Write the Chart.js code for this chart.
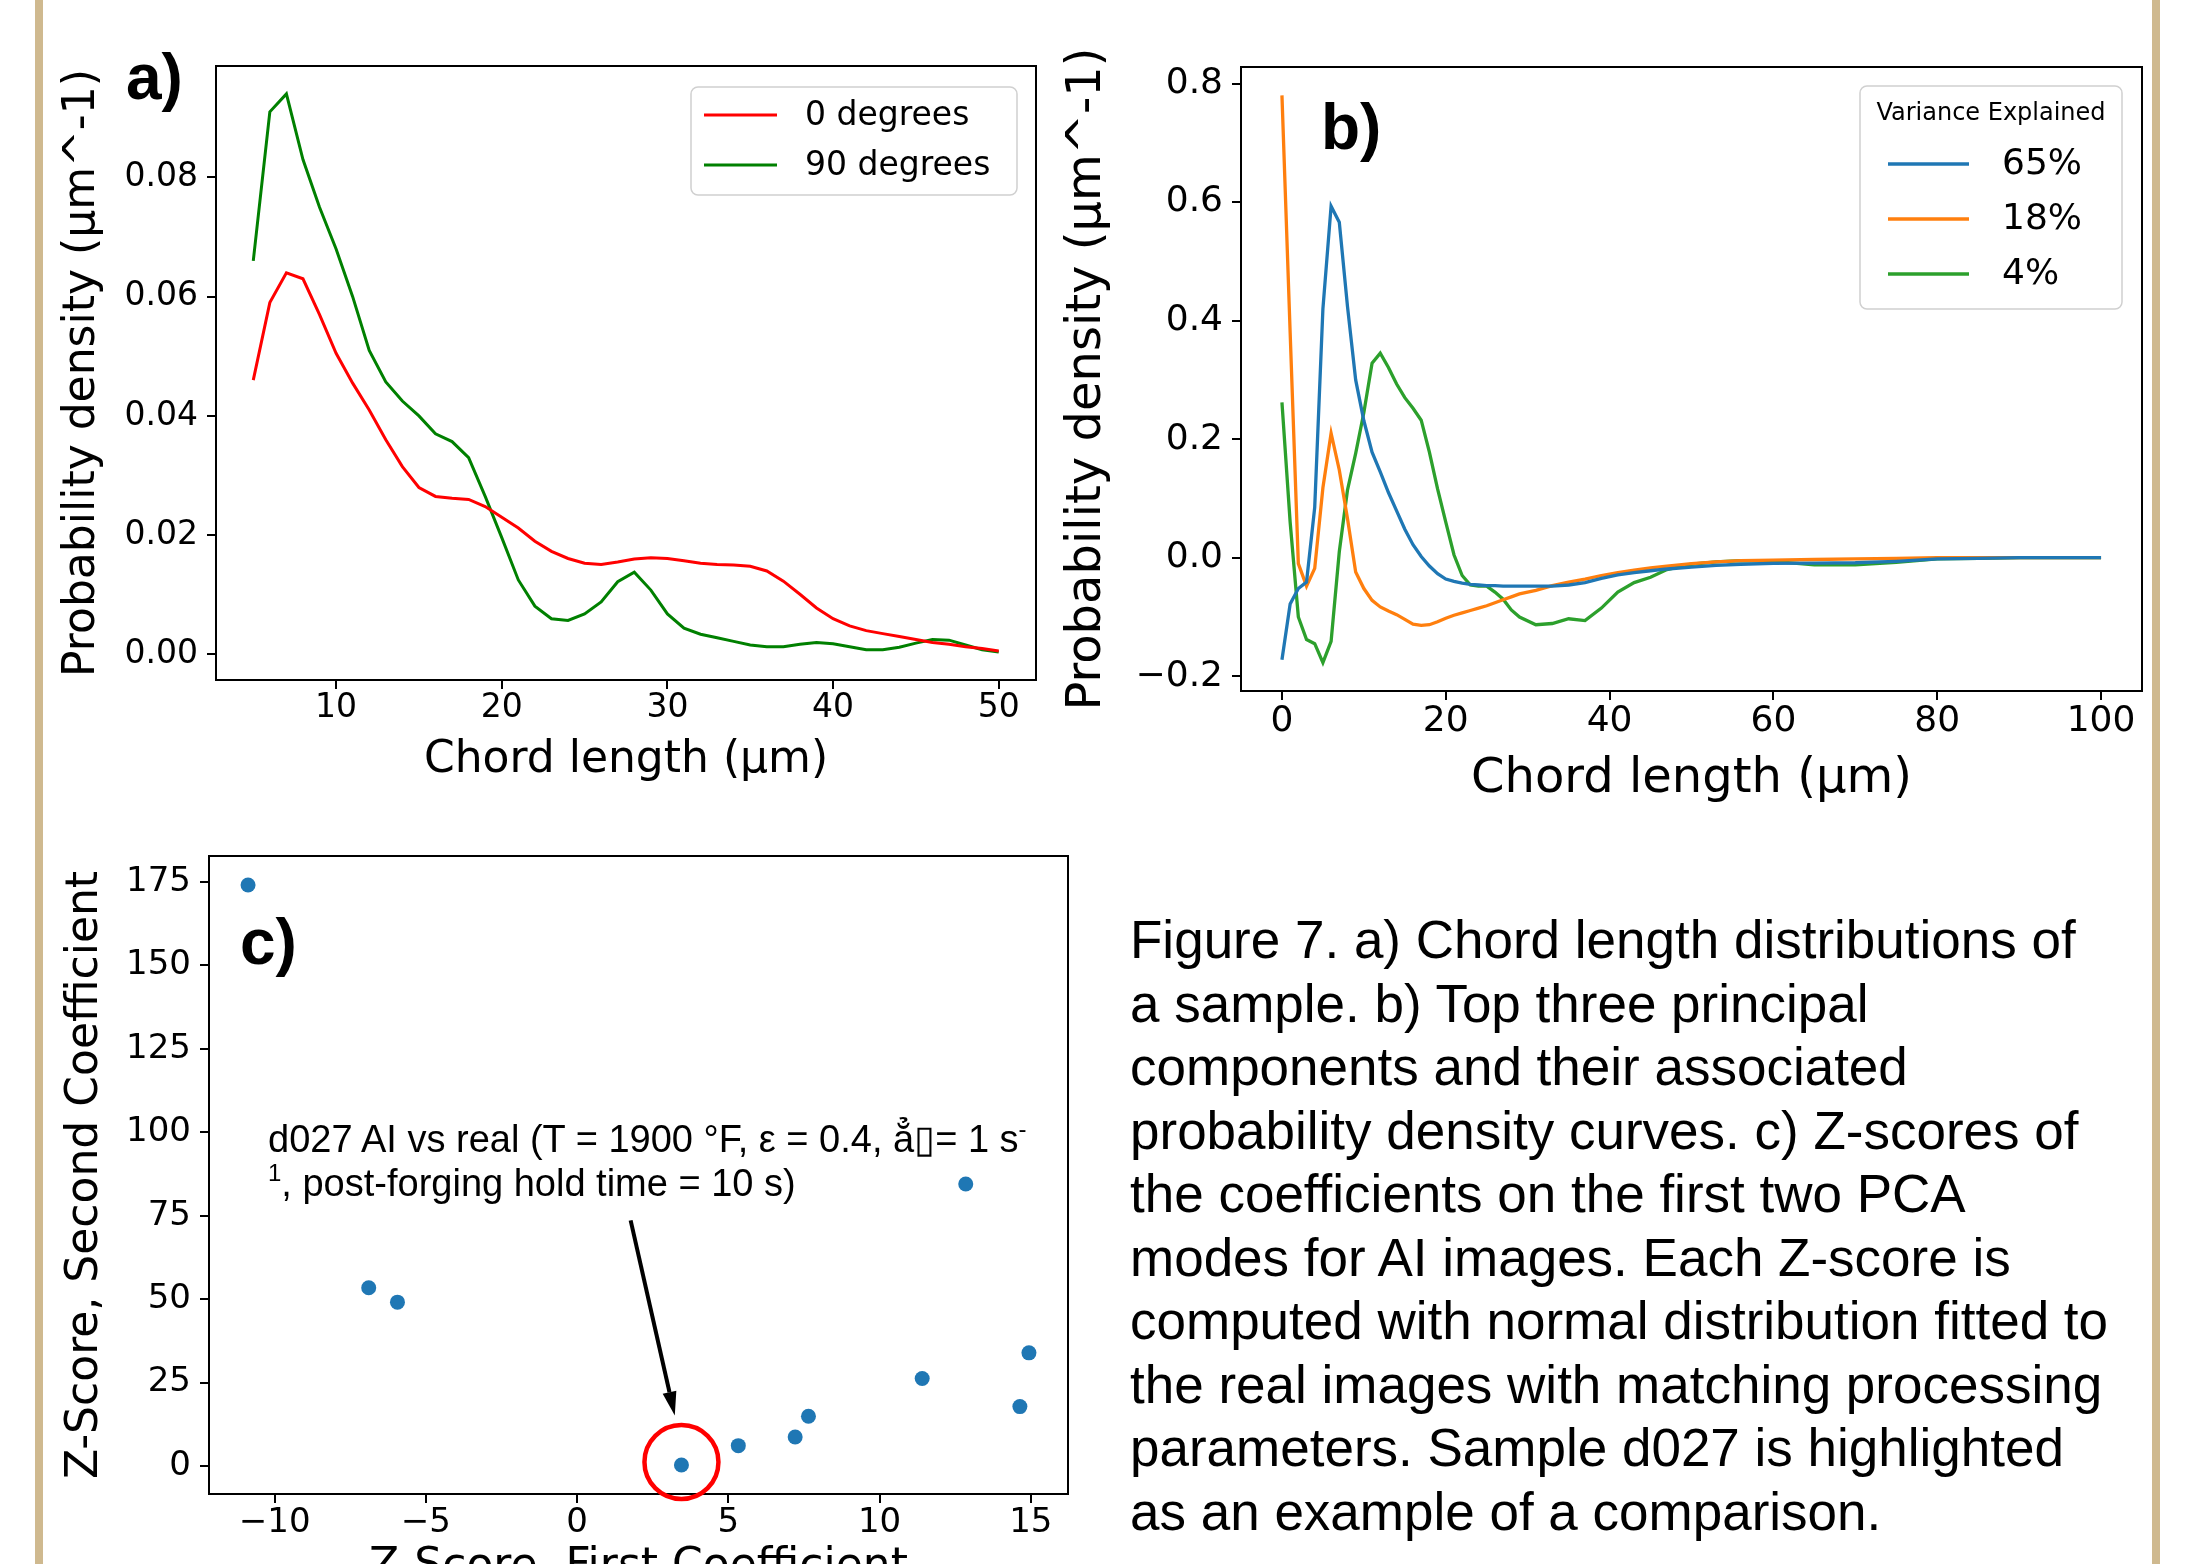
<!DOCTYPE html>
<html lang="en">
<head>
<meta charset="UTF-8">
<title>Figure 7</title>
<script src="https://cdn.jsdelivr.net/npm/chart.js"></script>
<style>
  body { margin: 0; width: 2192px; height: 1564px; overflow: hidden; background: #fff; position: relative; }
  canvas { position: absolute; }
  .bar { position: absolute; top: 0; width: 8px; height: 1564px; background: #cfb98f; }
  .tag { position: absolute; font: bold 64px "Liberation Sans", Arial, sans-serif; line-height: 64px; color: #000; }
  .caption { position: absolute; left: 1130px; top: 908px; font: 53px "Liberation Sans", Arial, sans-serif; line-height: 63.5px; white-space: nowrap; color: #000; }
  .note { position: absolute; left: 268px; top: 1117px; font: 38px "Liberation Sans", Arial, sans-serif; line-height: 44px; white-space: nowrap; color: #000; }
  .note sup { font-size: 24px; line-height: 0; vertical-align: 15px; }
</style>
</head>
<body>
<div class="bar" style="left:35px"></div>
<div class="bar" style="left:2152px"></div>

<canvas id="chartA" width="1100" height="820" style="left:0;top:0"></canvas>
<canvas id="chartB" width="1152" height="830" style="left:1040px;top:0"></canvas>
<canvas id="chartC" width="1100" height="830" style="left:0;top:800px"></canvas>

<div class="tag" style="left:126px;top:45px">a)</div>
<div class="tag" style="left:1321px;top:95px">b)</div>
<div class="tag" style="left:240px;top:910px">c)</div>

<div class="note">d027 AI vs real (T = 1900 °F, ε = 0.4, ẳ▯= 1 s<sup>-</sup><br><sup>1</sup>, post-forging hold time = 10 s)</div>

<div class="caption">Figure 7. a) Chord length distributions of<br>a sample. b) Top three principal<br>components and their associated<br>probability density curves. c) Z-scores of<br>the coefficients on the first two PCA<br>modes for AI images. Each Z-score is<br>computed with normal distribution fitted to<br>the real images with matching processing<br>parameters. Sample d027 is highlighted<br>as an example of a comparison.</div>

<script>
// ---- panel a: chord length distributions ----
const aChord = [5, 6, 7, 8, 9, 10, 11, 12, 13, 14, 15, 16, 17, 18, 19, 20, 21, 22, 23, 24, 25, 26, 27,
  28, 29, 30, 31, 32, 33, 34, 35, 36, 37, 38, 39, 40, 41, 42, 43, 44, 45, 46, 47, 48, 49, 50];
const aDeg0 = [0.046, 0.059, 0.064, 0.063, 0.057, 0.0505, 0.0455, 0.041, 0.036, 0.0315, 0.028, 0.0265,
  0.0262, 0.026, 0.0248, 0.023, 0.0212, 0.019, 0.0173, 0.0161, 0.0153, 0.0151, 0.0155, 0.016, 0.0162,
  0.0161, 0.0157, 0.0153, 0.0151, 0.015, 0.0148, 0.014, 0.0123, 0.0101, 0.0078, 0.006, 0.0048, 0.004,
  0.0035, 0.003, 0.0025, 0.002, 0.0017, 0.0013, 0.001, 0.0006];
const aDeg90 = [0.066, 0.091, 0.094, 0.083, 0.075, 0.068, 0.060, 0.051, 0.0457, 0.0425, 0.040, 0.037,
  0.0357, 0.033, 0.0265, 0.0196, 0.0125, 0.0081, 0.006, 0.0057, 0.0068, 0.0088, 0.0122, 0.0138, 0.0108,
  0.0068, 0.0044, 0.0034, 0.0028, 0.0022, 0.0016, 0.0013, 0.0013, 0.0017, 0.002, 0.0018, 0.0013, 0.0008,
  0.0008, 0.0012, 0.0019, 0.0025, 0.0024, 0.0016, 0.0008, 0.0004];
const aTicksX = [10, 20, 30, 40, 50];
const aTicksY = [0, 0.02, 0.04, 0.06, 0.08];

// ---- panel b: principal components ----
const bChord = [0, 1, 2, 3, 4, 5, 6, 7, 8, 9, 10, 11, 12, 13, 14, 15, 16, 17, 18, 19, 20, 21, 22, 23, 24,
  25, 26, 27, 28, 29, 31, 33, 35, 37, 39, 41, 43, 45, 47, 50, 53, 56, 60, 65, 70, 75, 80, 85, 90, 95, 100];
const bPc65 = [-0.172, -0.078, -0.052, -0.041, 0.085, 0.42, 0.593, 0.566, 0.424, 0.30, 0.231, 0.178,
  0.145, 0.11, 0.079, 0.048, 0.022, 0.002, -0.014, -0.027, -0.036, -0.04, -0.043, -0.045, -0.046, -0.047,
  -0.047, -0.048, -0.048, -0.048, -0.048, -0.048, -0.046, -0.042, -0.035, -0.029, -0.025, -0.022, -0.019,
  -0.016, -0.013, -0.011, -0.0096, -0.009, -0.0085, -0.006, -0.002, -0.001, 0, 0, 0];
const bPc18 = [0.78, 0.38, -0.01, -0.048, -0.018, 0.118, 0.21, 0.148, 0.066, -0.024, -0.052, -0.072,
  -0.083, -0.09, -0.096, -0.104, -0.112, -0.114, -0.113, -0.108, -0.102, -0.097, -0.093, -0.089, -0.085,
  -0.081, -0.076, -0.071, -0.066, -0.061, -0.055, -0.047, -0.041, -0.036, -0.03, -0.025, -0.021, -0.017,
  -0.014, -0.01, -0.007, -0.005, -0.004, -0.003, -0.002, -0.001, 0, 0, 0, 0, 0];
const bPc4 = [0.262, 0.06, -0.1, -0.138, -0.145, -0.177, -0.141, 0.01, 0.114, 0.176, 0.245, 0.328, 0.345,
  0.321, 0.293, 0.27, 0.252, 0.232, 0.178, 0.116, 0.06, 0.005, -0.03, -0.046, -0.048, -0.048, -0.058, -0.07,
  -0.088, -0.1, -0.113, -0.111, -0.103, -0.106, -0.085, -0.058, -0.042, -0.033, -0.02, -0.011, -0.007,
  -0.005, -0.006, -0.012, -0.012, -0.008, -0.002, -0.001, 0, 0, 0];
const bTicksX = [0, 20, 40, 60, 80, 100];
const bTicksY = [-0.2, 0, 0.2, 0.4, 0.6, 0.8];

// ---- panel c: z-scores ----
const cFirst = [-10.88, -6.89, -5.94, 3.45, 5.33, 7.21, 7.65, 11.41, 12.85, 14.64, 14.94];
const cSecond = [174.1, 53.4, 49.1, 0.3, 6.1, 8.7, 14.9, 26.2, 84.5, 17.8, 33.9];
const cHighlight = 3; // d027
const cTicksX = [-10, -5, 0, 5, 10, 15];
const cTicksY = [0, 25, 50, 75, 100, 125, 150, 175];

const FONT = 'DejaVu Sans';

function pad5(...series) {
  const all = series.flat();
  const lo = Math.min(...all), hi = Math.max(...all), m = (hi - lo) * 0.05;
  return [lo - m, hi + m];
}
function fmt(d) {
  return v => (v < 0 ? '\u2212' : '') + Math.abs(v).toFixed(d);
}
function pts(xs, ys) { return xs.map((x, i) => ({ x: x, y: ys[i] })); }

// work out paddings so the plot box lands where the reference has it
function fitLayout(rect, area, yTitleX, yTitleSize, xTitleY, xTitleSize) {
  const yLh = yTitleSize * 1.2, xLh = xTitleSize * 1.2;
  const padLeft = yTitleX - yLh / 2 - rect.x;
  const xBottom = xTitleY + xLh / 2;
  return {
    padding: { left: padLeft, top: area.t - rect.y, right: rect.x + rect.w - area.r, bottom: rect.y + rect.h - xBottom },
    yWidth: area.l - rect.x - padLeft,
    xHeight: xBottom - area.b
  };
}

function axis(range, ticks, format, title, titleSize, tickSize, tickPad, fix) {
  return {
    type: 'linear', min: range[0], max: range[1],
    afterBuildTicks: s => { s.ticks = ticks.map(v => ({ value: v })); },
    afterFit: fix,
    grid: { drawOnChartArea: false, color: '#000', lineWidth: 2, tickLength: 9, tickWidth: 2 },
    border: { display: true, color: '#000', width: 2 },
    ticks: { color: '#000', font: { family: FONT, size: tickSize }, padding: tickPad, autoSkip: false, maxRotation: 0, callback: format },
    title: { display: true, text: title, color: '#000', font: { family: FONT, size: titleSize }, padding: 0 }
  };
}

const framePlugin = {
  id: 'frame',
  afterDraw(chart) {
    const { ctx, chartArea: a } = chart;
    ctx.save();
    ctx.strokeStyle = '#000';
    ctx.lineWidth = 2;
    ctx.strokeRect(a.left, a.top, a.right - a.left, a.bottom - a.top);
    ctx.restore();
  }
};

function roundBox(ctx, x, y, w, h, r) {
  ctx.beginPath();
  ctx.moveTo(x + r, y);
  ctx.arcTo(x + w, y, x + w, y + h, r);
  ctx.arcTo(x + w, y + h, x, y + h, r);
  ctx.arcTo(x, y + h, x, y, r);
  ctx.arcTo(x, y, x + w, y, r);
  ctx.closePath();
}

// matplotlib-like legend, spec in page coordinates
function legendPlugin(rect, spec) {
  return {
    id: 'mplLegend',
    afterDraw(chart) {
      const ctx = chart.ctx;
      const ox = rect.x, oy = rect.y;
      ctx.save();
      roundBox(ctx, spec.box[0] - ox, spec.box[1] - oy, spec.box[2] - spec.box[0], spec.box[3] - spec.box[1], 7);
      ctx.fillStyle = 'rgba(255,255,255,0.8)';
      ctx.fill();
      ctx.strokeStyle = '#d0d0d0';
      ctx.lineWidth = 1.5;
      ctx.stroke();
      ctx.fillStyle = '#000';
      ctx.textBaseline = 'middle';
      if (spec.title) {
        ctx.textAlign = 'center';
        ctx.font = spec.titleSize + 'px "' + FONT + '"';
        ctx.fillText(spec.title, spec.titleX - ox, spec.titleY - oy);
      }
      ctx.textAlign = 'left';
      ctx.font = spec.size + 'px "' + FONT + '"';
      chart.data.datasets.forEach((ds, i) => {
        const y = spec.rows[i] - oy;
        ctx.strokeStyle = ds.borderColor;
        ctx.lineWidth = ds.borderWidth;
        ctx.beginPath();
        ctx.moveTo(spec.line[0] - ox, y);
        ctx.lineTo(spec.line[1] - ox, y);
        ctx.stroke();
        ctx.fillStyle = '#000';
        ctx.fillText(ds.label, spec.textX - ox, y + 1);
      });
      ctx.restore();
    }
  };
}

// ---- chart a ----
const rectA = { x: 0, y: 0, w: 1100, h: 820 };
const layA = fitLayout(rectA, { l: 216, t: 66, r: 1036, b: 680 }, 83, 44, 761, 44);
new Chart(document.getElementById('chartA'), {
  type: 'line',
  data: {
    datasets: [
      { label: '0 degrees', data: pts(aChord, aDeg0), borderColor: '#ff0000', borderWidth: 3, pointRadius: 0, tension: 0 },
      { label: '90 degrees', data: pts(aChord, aDeg90), borderColor: '#008000', borderWidth: 3, pointRadius: 0, tension: 0 }
    ]
  },
  options: {
    responsive: false, animation: false, events: [],
    layout: { padding: layA.padding },
    plugins: { legend: { display: false }, tooltip: { enabled: false } },
    scales: {
      x: axis(pad5(aChord), aTicksX, fmt(0), 'Chord length (\u03bcm)', 44, 33, 0, s => { s.height = layA.xHeight; }),
      y: axis(pad5(aDeg0, aDeg90), aTicksY, fmt(2), 'Probability density (\u03bcm^-1)', 44, 33, 9, s => { s.width = layA.yWidth; })
    }
  },
  plugins: [framePlugin, legendPlugin(rectA, {
    box: [691, 87, 1017, 195], line: [704, 777], textX: 805, rows: [115, 165], size: 33
  })]
});

// ---- chart b ----
const rectB = { x: 1040, y: 0, w: 1152, h: 830 };
const layB = fitLayout(rectB, { l: 1241, t: 67, r: 2142, b: 691 }, 1088, 48, 780, 48);
new Chart(document.getElementById('chartB'), {
  type: 'line',
  data: {
    datasets: [
      { label: '65%', data: pts(bChord, bPc65), borderColor: '#1f77b4', borderWidth: 3.3, pointRadius: 0, tension: 0 },
      { label: '18%', data: pts(bChord, bPc18), borderColor: '#ff7f0e', borderWidth: 3.3, pointRadius: 0, tension: 0 },
      { label: '4%', data: pts(bChord, bPc4), borderColor: '#2ca02c', borderWidth: 3.3, pointRadius: 0, tension: 0 }
    ]
  },
  options: {
    responsive: false, animation: false, events: [],
    layout: { padding: layB.padding },
    plugins: { legend: { display: false }, tooltip: { enabled: false } },
    scales: {
      x: axis(pad5(bChord), bTicksX, fmt(0), 'Chord length (\u03bcm)', 48, 36, 0, s => { s.height = layB.xHeight; }),
      y: axis(pad5(bPc65, bPc18, bPc4), bTicksY, fmt(1), 'Probability density (\u03bcm^-1)', 48, 36, 9, s => { s.width = layB.yWidth; })
    }
  },
  plugins: [framePlugin, legendPlugin(rectB, {
    box: [1860, 86, 2122, 309], title: 'Variance Explained', titleSize: 24, titleX: 1991, titleY: 114,
    line: [1888, 1969], textX: 2002, rows: [164, 219, 274], size: 36
  })]
});

// ---- chart c ----
const rectC = { x: 0, y: 800, w: 1100, h: 830 };
const layC = fitLayout(rectC, { l: 209, t: 856, r: 1068, b: 1494 }, 86, 44, 1568, 44);
const notePlugin = {
  id: 'note',
  afterDraw(chart) {
    const { ctx, scales: { x, y } } = chart;
    ctx.save();
    // red circle round the highlighted sample
    const px = x.getPixelForValue(cFirst[cHighlight]);
    const py = y.getPixelForValue(cSecond[cHighlight]) - 3;
    ctx.strokeStyle = '#ff0000';
    ctx.lineWidth = 4.5;
    ctx.beginPath();
    ctx.arc(px, py, 37, 0, Math.PI * 2);
    ctx.stroke();
    // arrow from the label to the sample
    const x0 = x.getPixelForValue(1.77), y0 = y.getPixelForValue(73.6);
    const x1 = x.getPixelForValue(3.23), y1 = y.getPixelForValue(15.1);
    const ang = Math.atan2(y1 - y0, x1 - x0);
    const hl = 24, hw = 7;
    const bx = x1 - hl * Math.cos(ang), by = y1 - hl * Math.sin(ang);
    ctx.strokeStyle = '#000';
    ctx.fillStyle = '#000';
    ctx.lineWidth = 4;
    ctx.beginPath();
    ctx.moveTo(x0, y0);
    ctx.lineTo(bx, by);
    ctx.stroke();
    ctx.beginPath();
    ctx.moveTo(x1, y1);
    ctx.lineTo(bx + hw * Math.sin(ang), by - hw * Math.cos(ang));
    ctx.lineTo(bx - hw * Math.sin(ang), by + hw * Math.cos(ang));
    ctx.closePath();
    ctx.fill();
    ctx.restore();
  }
};
new Chart(document.getElementById('chartC'), {
  type: 'scatter',
  data: {
    datasets: [
      { data: pts(cFirst, cSecond), backgroundColor: '#1f77b4', borderWidth: 0, pointRadius: 7.5 }
    ]
  },
  options: {
    responsive: false, animation: false, events: [],
    layout: { padding: layC.padding },
    plugins: { legend: { display: false }, tooltip: { enabled: false } },
    scales: {
      x: axis(pad5(cFirst), cTicksX, fmt(0), 'Z-Score, First Coefficient', 44, 34, 0, s => { s.height = layC.xHeight; }),
      y: axis(pad5(cSecond), cTicksY, fmt(0), 'Z-Score, Second Coefficient', 44, 34, 9, s => { s.width = layC.yWidth; })
    }
  },
  plugins: [framePlugin, notePlugin]
});
</script>
</body>
</html>
